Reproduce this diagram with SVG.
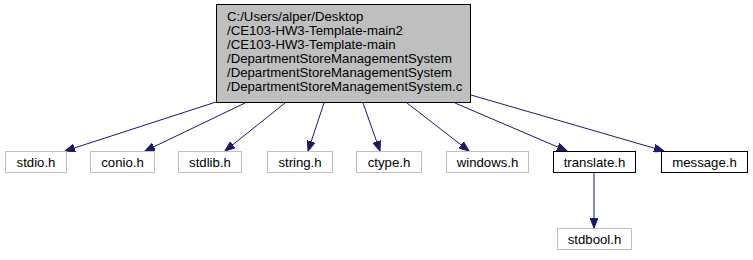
<svg xmlns="http://www.w3.org/2000/svg" width="753" height="260" viewBox="0 0 753 260">
  <style>
    text { font-family: "Liberation Sans", Arial, sans-serif; font-size: 13.2px; fill: #000; }
    .node text { text-anchor: middle; }
    #main text { text-anchor: start; }
    .ext rect { fill: #fff; stroke: #bfbfbf; stroke-width: 1; }
    .loc rect { fill: #fff; stroke: #000; stroke-width: 1; }
    .edge { stroke: #191970; stroke-width: 1; fill: none; marker-end: url(#arrow); }
  </style>
  <defs>
    <marker id="arrow" markerWidth="11" markerHeight="8" refX="10" refY="4" orient="auto" markerUnits="userSpaceOnUse">
      <path d="M0,0 L10,4 L0,8 Z" fill="#191970" stroke="#191970" stroke-width="1"/>
    </marker>
  </defs>
  <rect width="753" height="260" fill="#fff"/>

  <g id="connectors">
    <line class="edge" x1="216" y1="102" x2="65" y2="151"/>
    <line class="edge" x1="245" y1="103" x2="145" y2="151"/>
    <line class="edge" x1="285" y1="103" x2="225" y2="151"/>
    <line class="edge" x1="324" y1="103" x2="308" y2="151"/>
    <line class="edge" x1="363" y1="103" x2="380" y2="151"/>
    <line class="edge" x1="407" y1="103" x2="469" y2="151"/>
    <line class="edge" x1="455" y1="103" x2="567" y2="151"/>
    <line class="edge" x1="471" y1="95" x2="664" y2="151"/>
    <line class="edge" x1="594" y1="172" x2="594" y2="228"/>
  </g>

  <g id="main" class="node">
    <rect x="216.5" y="4.5" width="254" height="98" fill="#bfbfbf" stroke="#000"/>
    <text x="227" y="21">C:/Users/alper/Desktop</text>
    <text x="227" y="35">/CE103-HW3-Template-main2</text>
    <text x="227" y="49">/CE103-HW3-Template-main</text>
    <text x="227" y="63">/DepartmentStoreManagementSystem</text>
    <text x="227" y="77">/DepartmentStoreManagementSystem</text>
    <text x="227" y="91">/DepartmentStoreManagementSystem.c</text>
  </g>

  <g id="stdio" class="node ext">
    <rect x="5.5" y="151.5" width="61" height="21"/>
    <text x="36" y="166.5">stdio.h</text>
  </g>
  <g id="conio" class="node ext">
    <rect x="90.5" y="151.5" width="64" height="21"/>
    <text x="122.5" y="166.5">conio.h</text>
  </g>
  <g id="stdlib" class="node ext">
    <rect x="178.5" y="151.5" width="63" height="21"/>
    <text x="210" y="166.5">stdlib.h</text>
  </g>
  <g id="string" class="node ext">
    <rect x="267.5" y="151.5" width="65" height="21"/>
    <text x="300" y="166.5">string.h</text>
  </g>
  <g id="ctype" class="node ext">
    <rect x="356.5" y="151.5" width="65" height="21"/>
    <text x="389" y="166.5">ctype.h</text>
  </g>
  <g id="windows" class="node ext">
    <rect x="446.5" y="151.5" width="82" height="21"/>
    <text x="487.5" y="166.5">windows.h</text>
  </g>
  <g id="translate" class="node loc">
    <rect x="553.5" y="151.5" width="82" height="21"/>
    <text x="594.5" y="166.5">translate.h</text>
  </g>
  <g id="message" class="node loc">
    <rect x="661.5" y="151.5" width="86" height="21"/>
    <text x="704.5" y="166.5">message.h</text>
  </g>
  <g id="stdbool" class="node ext">
    <rect x="557.5" y="228.5" width="74" height="21"/>
    <text x="594.5" y="243.5">stdbool.h</text>
  </g>
</svg>
